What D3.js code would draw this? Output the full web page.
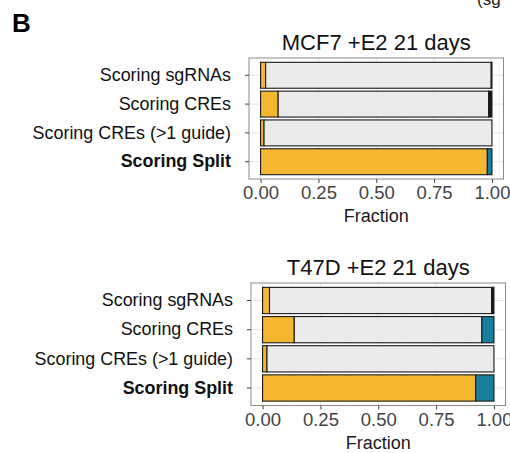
<!DOCTYPE html>
<html>
<head>
<meta charset="utf-8">
<script src="https://cdn.jsdelivr.net/npm/d3@7"></script>
<style>
  body { margin: 0; background: #fff; }
  text { font-family: "Liberation Sans", Arial, sans-serif; }
</style>
</head>
<body>
<div id="chart"></div>
<script>
// categories and tick labels
const categories = ["Scoring sgRNAs", "Scoring CREs", "Scoring CREs (>1 guide)", "Scoring Split"];
const tickValues = [0, 0.25, 0.5, 0.75, 1];
const tickLabels = ["0.00", "0.25", "0.50", "0.75", "1.00"];

// segment fractions, one value per category (stacked left to right)
const mcf7Yellow = [0.022, 0.076, 0.015, 0.980];
const mcf7Grey   = [0.975, 0.910, 0.985, 0.000];
const mcf7Dark   = [0.003, 0.014, 0.000, 0.000];
const mcf7Blue   = [0.000, 0.000, 0.000, 0.020];

const t47dYellow = [0.030, 0.137, 0.019, 0.921];
const t47dGrey   = [0.960, 0.811, 0.981, 0.000];
const t47dDark   = [0.010, 0.000, 0.000, 0.000];
const t47dBlue   = [0.000, 0.052, 0.000, 0.079];

const segColors = ["#f5b731", "#ebebeb", "#111b22", "#177e9e"];

const W = 510, H = 453;
const svg = d3.select("#chart").append("svg")
    .attr("width", W).attr("height", H);

// panel letter
svg.append("text").attr("x", 12).attr("y", 32)
    .attr("font-size", 26).attr("font-weight", "bold").text("B");
// clipped fragment from the source figure
svg.append("text").attr("x", 477).attr("y", 5)
    .attr("font-size", 17).attr("fill", "#222").text("(sg");

function drawPanel(title, segs, box) {
    const g = svg.append("g");

    const x = d3.scaleLinear().domain([-0.05, 1.05]).range([box.left, box.right]);
    const y = d3.scaleBand().domain(categories)
        .range([box.top, box.bottom]).paddingInner(0.1).paddingOuter(0.15);

    // grid
    const minor = [0.125, 0.375, 0.625, 0.875];
    g.selectAll(".minor").data(minor).join("line")
        .attr("x1", d => x(d)).attr("x2", d => x(d))
        .attr("y1", box.top).attr("y2", box.bottom)
        .attr("stroke", "#f2f2f2").attr("stroke-width", 0.6);
    g.selectAll(".major").data(tickValues).join("line")
        .attr("x1", d => x(d)).attr("x2", d => x(d))
        .attr("y1", box.top).attr("y2", box.bottom)
        .attr("stroke", "#e6e6e6").attr("stroke-width", 1);
    g.selectAll(".ygrid").data(categories).join("line")
        .attr("x1", box.left).attr("x2", box.right)
        .attr("y1", d => y(d) + y.bandwidth() / 2).attr("y2", d => y(d) + y.bandwidth() / 2)
        .attr("stroke", "#e6e6e6").attr("stroke-width", 1);

    // stacked bars
    const rows = categories.map((c, i) => {
        let acc = 0;
        return segs.map((s, k) => {
            const r = { cat: c, x0: acc, x1: acc + s[i], color: segColors[k] };
            acc += s[i];
            return r;
        }).filter(r => r.x1 - r.x0 > 0);
    }).flat();

    g.selectAll(".seg").data(rows).join("rect")
        .attr("x", d => x(d.x0)).attr("width", d => x(d.x1) - x(d.x0))
        .attr("y", d => y(d.cat)).attr("height", y.bandwidth())
        .attr("fill", d => d.color)
        .attr("stroke", "#1a1a1a").attr("stroke-width", 1.1);

    // panel border
    g.append("rect")
        .attr("x", box.left).attr("y", box.top)
        .attr("width", box.right - box.left).attr("height", box.bottom - box.top)
        .attr("fill", "none").attr("stroke", "#8a8a8a").attr("stroke-width", 1);

    // y axis
    const ya = g.append("g").attr("transform", `translate(${box.left},0)`)
        .call(d3.axisLeft(y).tickSize(4).tickPadding(14));
    ya.select(".domain").remove();
    ya.selectAll(".tick line").attr("stroke", "#444");
    ya.selectAll(".tick text")
        .attr("font-size", 17.9).attr("fill", "#111")
        .attr("font-family", "Liberation Sans, Arial, sans-serif")
        .attr("font-weight", d => d === "Scoring Split" ? "bold" : "normal");

    // x axis
    const xa = g.append("g").attr("transform", `translate(0,${box.bottom})`)
        .call(d3.axisBottom(x).tickValues(tickValues)
            .tickFormat((d, i) => tickLabels[i]).tickSize(4).tickPadding(3));
    xa.select(".domain").remove();
    xa.selectAll(".tick line").attr("stroke", "#444");
    xa.selectAll(".tick text")
        .attr("font-size", 18.5).attr("fill", "#444")
        .attr("font-family", "Liberation Sans, Arial, sans-serif");

    // axis title
    g.append("text")
        .attr("x", (box.left + box.right) / 2).attr("y", box.bottom + 43)
        .attr("text-anchor", "middle").attr("font-size", 18).attr("fill", "#1a1a1a")
        .text("Fraction");

    // panel title
    g.append("text")
        .attr("x", (box.left + box.right) / 2).attr("y", box.top - 8)
        .attr("text-anchor", "middle").attr("font-size", 22).attr("fill", "#111")
        .text(title);
}

drawPanel("MCF7 +E2 21 days", [mcf7Yellow, mcf7Grey, mcf7Dark, mcf7Blue],
    { left: 249, right: 503.5, top: 58, bottom: 179 });
drawPanel("T47D +E2 21 days", [t47dYellow, t47dGrey, t47dDark, t47dBlue],
    { left: 251, right: 505.5, top: 283, bottom: 405.5 });
</script>
</body>
</html>
